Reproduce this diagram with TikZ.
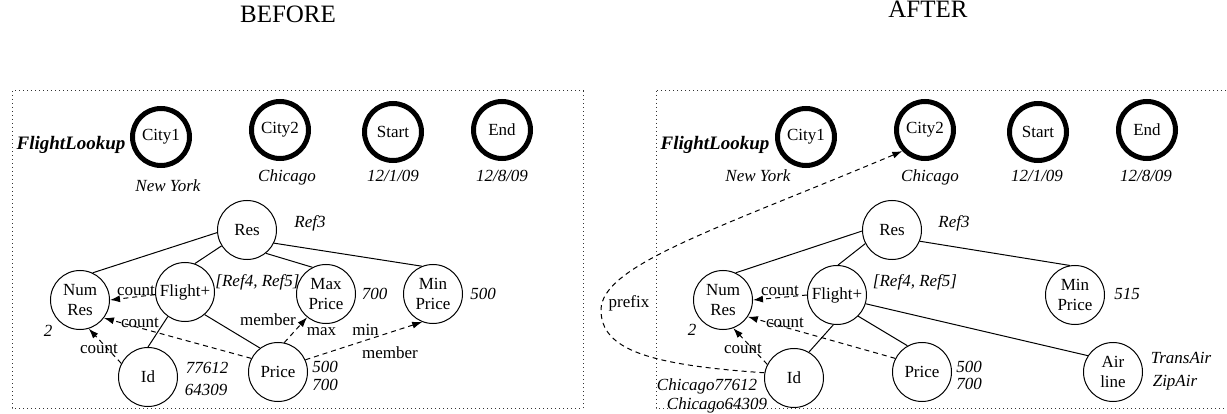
\documentclass[tikz,border=0pt]{standalone}
\usepackage{fontspec}
\setmainfont{Liberation Serif}
\usetikzlibrary{arrows.meta}
\tikzset{
  circ/.style={draw, circle, line width=1pt, minimum size=59pt, inner sep=0pt, align=center, font=\fontsize{17}{19.5}\selectfont},
  tcirc/.style={draw, circle, line width=5pt, minimum size=57pt, inner sep=0pt, font=\fontsize{17}{19.5}\selectfont},
  lab/.style={anchor=base, inner sep=0pt, font=\fontsize{17}{19}\selectfont\itshape},
  blab/.style={anchor=base, inner sep=0pt, font=\fontsize{19}{21}\selectfont\bfseries\itshape},
  elab/.style={anchor=base, inner sep=0pt, font=\fontsize{17}{19}\selectfont},
  ttl/.style={anchor=base, inner sep=0pt, font=\fontsize{25}{28}\selectfont},
  solidedge/.style={line width=1pt},
  dasharrow/.style={line width=1pt, dash pattern=on 5pt off 4pt, -{Latex[length=10pt,width=7pt]}},
  framebox/.style={line width=1pt, black!80, dash pattern=on 1pt off 3pt},
}
\begin{document}
\begin{tikzpicture}[x=1pt,y=-1pt]
\useasboundingbox (0,0) rectangle (1227,414);
\clip (0,0) rectangle (1227,414);

% titles
\node[ttl] (tB) at (288,23) {BEFORE};
\node[ttl] (tA) at (928,18) {AFTER};

% frames
\draw[framebox] (12,91) rectangle (583,408);
\draw[framebox] (656,91) rectangle (1240,408);

% ================= BEFORE =================
\node[blab] (fkL) at (71,150) {FlightLookup};
\node[tcirc] (c1L) at (161,137) {City1};
\node[tcirc] (c2L) at (280,130) {City2};
\node[tcirc] (stL) at (393,132) {Start};
\node[tcirc] (enL) at (502,130) {End};
\node[lab] (nyL) at (168,192) {New York};
\node[lab] (chL) at (287,182) {Chicago};
\node[lab] (d1L) at (393,182) {12/1/09};
\node[lab] (d2L) at (502,182) {12/8/09};

\node[circ] (resL) at (247,230) {Res};
\node[lab] (r3L) at (310,228) {Ref3};
\node[circ] (numL) at (80,300) {Num\\Res};
\node[lab] (twoL) at (48,336) {2};
\node[circ] (fliL) at (185,292) {Flight+};
\node[lab] (rfL) at (257.5,287) {[Ref4, Ref5]};
\node[circ] (maxL) at (326,294) {Max\\Price};
\node[lab] (v700L) at (374.5,300) {700};
\node[circ] (minL) at (433,294) {Min\\Price};
\node[lab] (v500L) at (483,300) {500};
\node[circ] (idL) at (148,377) {Id};
\node[lab] (i1L) at (207,373) {77612};
\node[lab] (i2L) at (206,395) {64309};
\node[circ] (prL) at (278,372) {Price};
\node[lab] (p1L) at (325,372) {500};
\node[lab] (p2L) at (325,390) {700};

\draw[solidedge] (numL.65) -- (resL.185);
\draw[solidedge] (fliL.71) -- (resL.212);
\draw[solidedge] (maxL.117) -- (resL.-51);
\draw[solidedge] (minL.112) -- (resL.-26);
\draw[solidedge] (fliL.-125) -- (idL.90);
\draw[solidedge] (fliL.-49) -- (prL.127);

\draw[dasharrow] (fliL.185) -- (numL.0);
\draw[dasharrow] (prL.153) -- (numL.-37);
\draw[dasharrow] (idL.153) -- (numL.-73);
\draw[dasharrow] (prL.78) -- (maxL.-129);
\draw[dasharrow] (prL.24) -- (minL.-111);

\node[elab] (e1L) at (136,295) {count};
\node[elab] (e2L) at (140,327) {count};
\node[elab] (e3L) at (99,353) {count};
\node[elab] (e4L) at (268,326) {member};
\node[elab] (e5L) at (321.5,335) {max};
\node[elab] (e6L) at (365.5,335) {min};
\node[elab] (e7L) at (390,358) {member};

% ================= AFTER =================
\node[blab] (fkR) at (715,150) {FlightLookup};
\node[tcirc] (c1R) at (806,137) {City1};
\node[tcirc] (c2R) at (925,130) {City2};
\node[tcirc] (stR) at (1038,132) {Start};
\node[tcirc] (enR) at (1147,130) {End};
\node[lab] (nyR) at (758,182) {New York};
\node[lab] (chR) at (930,182) {Chicago};
\node[lab] (d1R) at (1037,182) {12/1/09};
\node[lab] (d2R) at (1146,182) {12/8/09};

\node[circ] (resR) at (892,230) {Res};
\node[lab] (r3R) at (954,228) {Ref3};
\node[circ] (numR) at (723,300) {Num\\Res};
\node[lab] (twoR) at (692,335) {2};
\node[circ] (fliR) at (837,295) {Flight+};
\node[lab] (rfR) at (915,287) {[Ref4, Ref5]};
\node[circ] (minR) at (1075,295) {Min\\Price};
\node[lab] (v515R) at (1127,300) {515};
\node[circ] (idR) at (794,378) {Id};
\node[lab] (i1R) at (707,390) {Chicago77612};
\node[lab] (i2R) at (717,409) {Chicago64309};
\node[circ] (prR) at (922,372) {Price};
\node[lab] (p1R) at (969,372) {500};
\node[lab] (p2R) at (969,389) {700};
\node[circ] (airR) at (1113,372) {Air\\line};
\node[lab] (a1R) at (1181,363) {TransAir};
\node[lab] (a2R) at (1175,386) {ZipAir};

\draw[solidedge] (numR.65) -- (resR.182);
\draw[solidedge] (fliR.88) -- (resR.207);
\draw[solidedge] (minR.100) -- (resR.-22);
\draw[solidedge] (fliR.-97) -- (idR.60);
\draw[solidedge] (fliR.-45) -- (prR.119);
\draw[solidedge] (fliR.-17) -- (airR.147);

\draw[dasharrow] (fliR.180) -- (numR.0);
\draw[dasharrow] (prR.153) -- (numR.-34);
\draw[dasharrow] (idR.153) -- (numR.-70);

\coordinate (pfx) at (601,310);
\draw[dasharrow] (idR.170) .. controls (650,365) and (601,350) .. (pfx)
   .. controls (601,265) and (720,228) .. (c2R.-137);

\node[elab] (e1R) at (780,295) {count};
\node[elab] (e2R) at (785,327) {count};
\node[elab] (e3R) at (743,353) {count};
\node[elab] (e4R) at (629,308) {prefix};
\end{tikzpicture}
\end{document}
